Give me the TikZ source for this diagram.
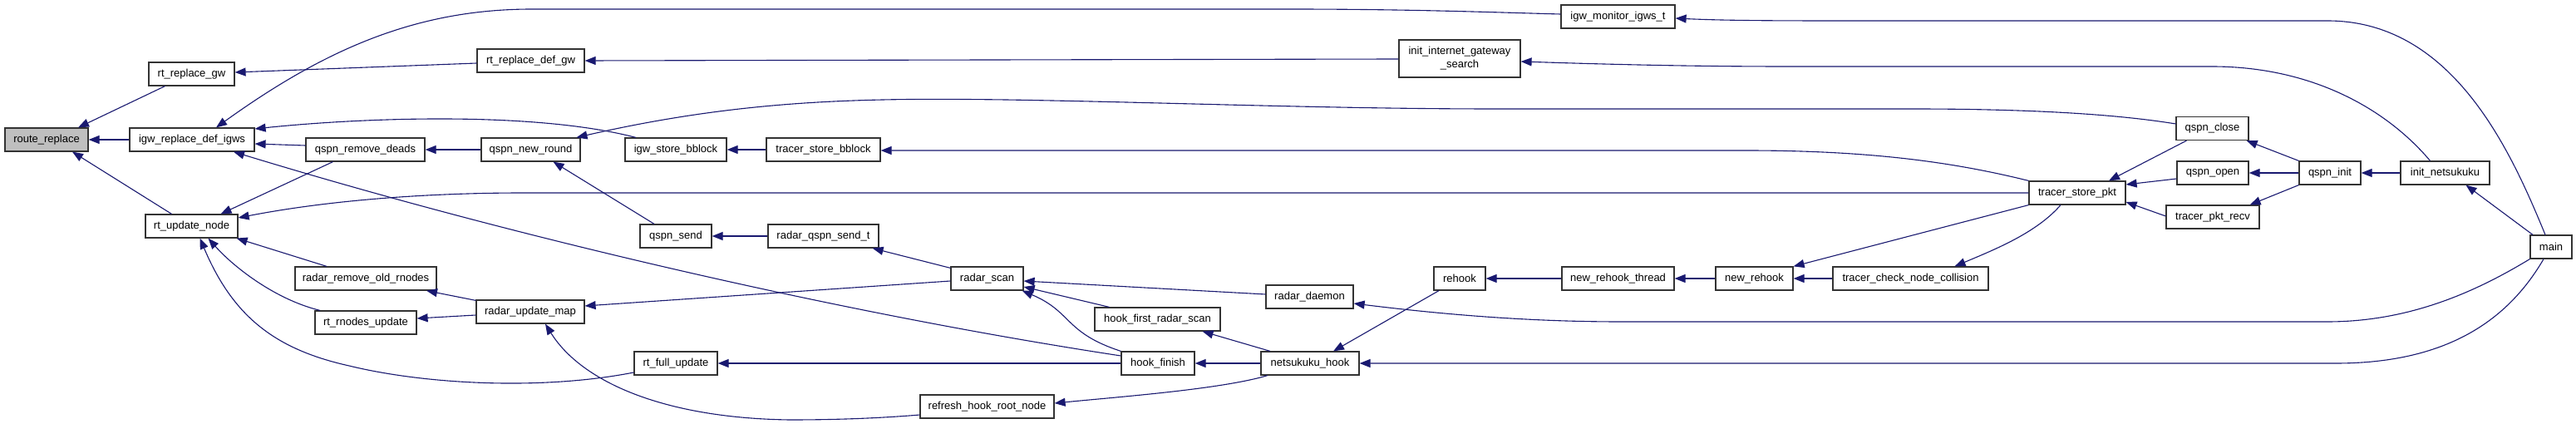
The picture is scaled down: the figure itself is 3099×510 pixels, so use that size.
\documentclass[tikz,border=0pt]{standalone}
\usepackage{fontspec}
\setmainfont{Liberation Sans}
\usetikzlibrary{arrows.meta}
\definecolor{edgeblue}{HTML}{191970}
\begin{document}
\begin{tikzpicture}[x=1pt,y=-1pt,
 fn/.style={draw=black!80, line width=1.2pt, minimum height=28pt, inner sep=0pt, font=\fontsize{13}{16}\selectfont, text=black},
 edge/.style={draw=edgeblue, line width=1.1pt, {Triangle[length=13pt,width=10pt]}-}]
\useasboundingbox[fill=white] (0,0) rectangle (3099,510);
% nodes
\node[fn, fill=black!25, minimum width=100pt] (rr) at (56,168) {route\_replace};
\node[fn, minimum width=103pt] (rrgw) at (230.5,89) {rt\_replace\_gw};
\node[fn, minimum width=150pt] (igwr) at (231,168) {igw\_replace\_def\_igws};
\node[fn, minimum width=111pt] (rtun) at (230.5,272) {rt\_update\_node};
\node[fn, minimum width=129pt] (rrdg) at (638.5,73) {rt\_replace\_def\_gw};
\node[fn, minimum width=143pt] (qrd) at (439.5,180) {qspn\_remove\_deads};
\node[fn, minimum width=119pt] (qnr) at (638.5,180) {qspn\_new\_round};
\node[fn, minimum width=170pt] (rrom) at (440,335) {radar\_remove\_old\_rnodes};
\node[fn, minimum width=122pt] (rtru) at (440,388) {rt\_rnodes\_update};
\node[fn, minimum width=130pt] (rum) at (638,375) {radar\_update\_map};
\node[fn, minimum width=122pt] (isb) at (813,180) {igw\_store\_bblock};
\node[fn, minimum width=137pt] (tsb) at (990.5,180) {tracer\_store\_bblock};
\node[fn, minimum width=86pt] (qs) at (813,284) {qspn\_send};
\node[fn, minimum width=133pt] (rqs) at (990.5,284) {radar\_qspn\_send\_t};
\node[fn, minimum width=100pt] (rfu) at (813,437) {rt\_full\_update};
\node[fn, minimum width=87pt] (rs) at (1187.5,335) {radar\_scan};
\node[fn, minimum width=151pt] (hfrs) at (1392.5,384) {hook\_first\_radar\_scan};
\node[fn, minimum width=88pt] (hf) at (1393,437) {hook\_finish};
\node[fn, minimum width=161pt] (rhrn) at (1187.5,489) {refresh\_hook\_root\_node};
\node[fn, minimum width=105pt] (rd) at (1575.5,357) {radar\_daemon};
\node[fn, minimum width=118pt] (nh) at (1576,437) {netsukuku\_hook};
\node[fn, minimum width=137pt] (imi) at (1946.5,20) {igw\_monitor\_igws\_t};
\node[fn, minimum width=146pt, minimum height=45pt, align=center] (iigs) at (1756,70.5) {init\_internet\_gateway\\\_search};
\node[fn, minimum width=62pt] (rh) at (1756,335) {rehook};
\node[fn, minimum width=135pt] (nrt) at (1946.5,335) {new\_rehook\_thread};
\node[fn, minimum width=93pt] (nr) at (2110.5,335) {new\_rehook};
\node[fn, minimum width=187pt] (tcnc) at (2298.5,335) {tracer\_check\_node\_collision};
\node[fn, minimum width=116pt] (tsp) at (2499,232) {tracer\_store\_pkt};
\node[fn, minimum width=87pt] (qc) at (2661.5,154.5) {qspn\_close};
\node[fn, minimum width=86pt] (qo) at (2662,208) {qspn\_open};
\node[fn, minimum width=112pt] (tpr) at (2662,261) {tracer\_pkt\_recv};
\node[fn, minimum width=74pt] (qi) at (2803,208) {qspn\_init};
\node[fn, minimum width=107pt] (inn) at (2941.5,208) {init\_netsukuku};
\node[fn, minimum width=50pt] (mn) at (3069,297) {main};
% edges
\draw[edge] ([xshift=38pt]rr.north) -- ([xshift=-32pt]rrgw.south);
\draw[edge] (rr.east) -- (igwr.west);
\draw[edge] ([xshift=31pt]rr.south) -- ([xshift=-24pt]rtun.north);
\draw[edge] ([yshift=2pt]rrgw.east) -- ([yshift=-3pt]rrdg.west);
\draw[edge] ([xshift=29pt]igwr.north) .. controls (390,60) and (500,11) .. (640,11) -- (1550,11) .. controls (1700,11) and (1800,15) .. ([yshift=3pt]imi.west);
\draw[edge] ([yshift=13pt]igwr.east) .. controls (430,142) and (640,133) .. ([xshift=-48pt]isb.north);
\draw[edge] ([yshift=-5pt]igwr.east) -- ([yshift=5pt]qrd.west);
\draw[edge] ([xshift=50pt]igwr.south) .. controls (600,280) and (1000,375) .. ([yshift=9pt]hf.west);
\draw[edge] ([xshift=35pt]rtun.north) -- ([xshift=-39pt]qrd.south);
\draw[edge] ([yshift=10pt]rtun.east) .. controls (400,240) and (520,232) .. (630,232) -- (tsp.west);
\draw[edge] ([xshift=-2pt]rtun.south east) -- ([xshift=-47pt]rrom.north);
\draw[edge] ([xshift=20pt]rtun.south) .. controls (280,320) and (330,360) .. ([xshift=-55pt]rtru.north);
\draw[edge] ([xshift=10pt]rtun.south) .. controls (280,380) and (330,420) .. (420,440) .. controls (510,462) and (650,470) .. ([yshift=-11pt]rfu.west);
\draw[edge] (qrd.east) -- (qnr.west);
\draw[edge] ([xshift=55pt]qnr.north) .. controls (900,118) and (1050,118) .. (1210,120) .. controls (1400,123) and (1600,131) .. (1800,131) -- (2300,131) .. controls (2450,131) and (2550,138) .. ([yshift=5.5pt]qc.west);
\draw[edge] ([xshift=27pt]qnr.south) -- ([xshift=-26pt]qs.north);
\draw[edge] (isb.east) -- (tsb.west);
\draw[edge] ([yshift=-1pt]tsb.east) -- (2100,181) .. controls (2250,181) and (2350,195) .. (tsp.north west);
\draw[edge] (qs.east) -- (rqs.west);
\draw[edge] ([xshift=-8pt]rqs.south east) -- ([yshift=-2pt]rs.north west);
\draw[edge] ([yshift=7pt]rum.east) -- ([yshift=-3pt]rs.west);
\draw[edge] ([xshift=73pt]rrom.south) -- ([yshift=-1pt]rum.north west);
\draw[edge] ([yshift=5pt]rtru.east) -- ([yshift=-4pt]rum.west);
\draw[edge] ([xshift=18pt]rum.south) .. controls (700,460) and (800,503) .. (950,505) .. controls (1020,505) and (1070,502) .. ([yshift=-10pt]rhrn.west);
\draw[edge] ([yshift=-3pt]rs.east) -- ([yshift=3pt]rd.west);
\draw[edge] ([yshift=-10pt]rs.east) -- ([xshift=-58pt]hfrs.north);
\draw[edge] ([xshift=-2pt]rs.south east) .. controls (1290,375) and (1280,400) .. (hf.north west);
\draw[edge] ([xshift=54pt]hfrs.south) -- ([xshift=-48pt]nh.north);
\draw[edge] (hf.east) -- (nh.west);
\draw[edge] (rfu.east) -- (hf.west);
\draw[edge] ([yshift=4pt]rhrn.east) .. controls (1350,477) and (1470,468) .. ([xshift=-51pt]nh.south);
\draw[edge] ([xshift=28pt]nh.north) -- ([xshift=-25pt]rh.south);
\draw[edge] (rh.east) -- (nrt.west);
\draw[edge] (nrt.east) -- (nr.west);
\draw[edge] (nr.east) -- (tcnc.west);
\draw[edge] (nr.north east) -- (tsp.south west);
\draw[edge] ([xshift=53pt]tcnc.north) .. controls (2400,300) and (2450,280) .. ([xshift=-20pt]tsp.south);
\draw[edge] ([xshift=38pt]tsp.north) -- ([xshift=-31pt]qc.south);
\draw[edge] ([yshift=10pt]tsp.east) -- ([yshift=-7pt]qo.west);
\draw[edge] ([yshift=-11pt]tsp.east) -- ([yshift=1pt]tpr.west);
\draw[edge] ([xshift=-3pt]qc.south east) -- (qi.north west);
\draw[edge] (qo.east) -- (qi.west);
\draw[edge] ([xshift=-12pt]tpr.north east) -- (qi.south west);
\draw[edge] (qi.east) -- (inn.west);
\draw[edge] ([xshift=25pt]inn.south) -- ([xshift=-22pt]mn.north);
\draw[edge] ([yshift=-2pt]imi.east) .. controls (2080,25) and (2150,25) .. (2230,25) -- (2800,25) .. controls (2950,25) and (3020,180) .. ([xshift=-7pt]mn.north);
\draw[edge] ([yshift=-3.5pt]iigs.east) .. controls (1950,78) and (2050,80) .. (2150,80) -- (2661,80) .. controls (2780,80) and (2870,130) .. ([xshift=-18pt]inn.north);
\draw[edge] (rrdg.east) -- ([yshift=-0.5pt]iigs.west);
\draw[edge] ([yshift=-8pt]rd.east) .. controls (1750,380) and (1850,387) .. (1950,387) -- (2800,387) .. controls (2900,387) and (2980,350) .. (mn.south west);
\draw[edge] (nh.east) -- (2810,437) .. controls (2950,437) and (3020,380) .. ([xshift=-9pt]mn.south);
\end{tikzpicture}
\end{document}
